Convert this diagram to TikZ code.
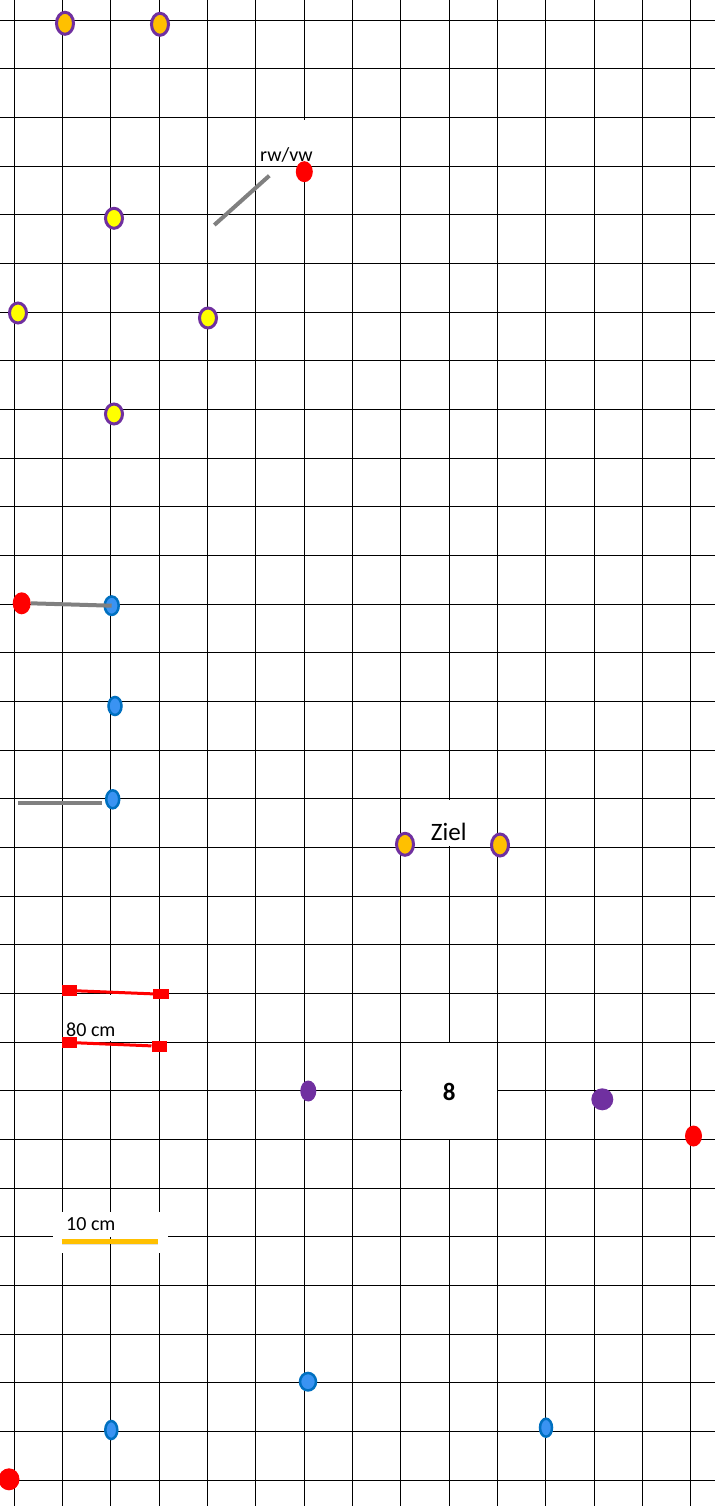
\documentclass[tikz,border=0pt]{standalone}
\usepackage{fontspec}
\setmainfont{Carlito}
\usetikzlibrary{shapes.geometric}
\definecolor{purp}{HTML}{7030A0}
\definecolor{orangeF}{HTML}{FFC000}
\definecolor{yellowF}{HTML}{FFFF00}
\definecolor{blueF}{HTML}{3A93F2}
\definecolor{blueD}{HTML}{0070C0}
\definecolor{redF}{HTML}{FF0000}
\definecolor{grayL}{HTML}{808080}
\tikzset{
  gridline/.style={black,line width=1pt},
  odot/.style={ellipse,fill=orangeF,draw=purp,line width=3pt,minimum width=17pt,minimum height=22pt,inner sep=0pt},
  ydot/.style={odot,fill=yellowF,minimum height=20pt},
  reddot/.style={ellipse,fill=redF,minimum width=17pt,minimum height=21pt,inner sep=0pt},
  bluedot/.style={ellipse,fill=blueF,draw=blueD,line width=2.5pt,minimum width=13pt,minimum height=18pt,inner sep=0pt},
  purpdot/.style={ellipse,fill=purp,minimum width=16pt,minimum height=21pt,inner sep=0pt},
  graybar/.style={grayL,line width=4pt},
  redsq/.style={rectangle,fill=redF,minimum width=15pt,minimum height=11pt,inner sep=0pt},
  redline/.style={redF,line width=3pt},
  lbl/.style={inner sep=0pt,anchor=base west,font=\fontsize{20}{24}\selectfont},
  whitebox/.style={fill=white,draw=none}
}
\begin{document}
\begin{tikzpicture}[x=1pt,y=-1pt]
\useasboundingbox (0,0) rectangle (715,1506);
\fill[white] (0,0) rectangle (715,1506);
% grid
\foreach \j in {0,...,14}{
  \draw[gridline] ({14+48.35*\j},0) -- ({14+48.35*\j},1506);
}
\foreach \k in {0,...,30}{
  \draw[gridline] (0,{20.3+48.66*\k}) -- (715,{20.3+48.66*\k});
}
% white text boxes
\fill[whitebox] (257,119.6) rectangle (340,165.4);
\fill[whitebox] (402,800.2) rectangle (496.3,846.3);
\fill[whitebox] (63.5,994.8) rectangle (158,1041.2);
\fill[whitebox] (53,1212) rectangle (168,1253);
\fill[whitebox] (401.9,1043.4) rectangle (496.9,1138.8);
% texts
\node[lbl] (trw) at (260,161.5) {rw/vw};
\node[lbl,font=\fontsize{25}{30}\selectfont] (tziel) at (430.7,840) {Ziel};
\node[lbl] (t80) at (66,1036) {80 cm};
\node[lbl] (t10) at (66,1230.5) {10 cm};
\node[inner sep=0pt,font=\fontsize{25}{30}\selectfont\bfseries] (t8) at (449.3,1091.7) {8};
% orange dots
\node[odot] (o1) at (65,23.3) {};
\node[odot] (o2) at (160,24.3) {};
\node[odot] (o3) at (405,844.3) {};
\node[odot] (o4) at (500,845) {};
% yellow dots
\node[ydot] (y1) at (114,218.3) {};
\node[ydot] (y2) at (18,313) {};
\node[ydot] (y3) at (208,318) {};
\node[ydot] (y4) at (114,414) {};
% red dots
\node[reddot] (r1) at (304.3,171.7) {};
\node[reddot,minimum width=18pt,minimum height=22pt] (r2) at (21.7,603.3) {};
\node[reddot] (r3) at (693.5,1136) {};
\node[reddot,minimum width=21pt,minimum height=22pt] (r4) at (9,1479.3) {};
% blue dots
\node[bluedot,minimum width=14pt,minimum height=18.5pt] (b1) at (111.7,605.7) {};
\node[bluedot] (b2) at (115,706) {};
\node[bluedot] (b3) at (112.7,799.3) {};
\node[bluedot,minimum width=16pt,minimum height=17.5pt] (b4) at (308,1381.7) {};
\node[bluedot,minimum width=12pt] (b5) at (111.3,1430) {};
\node[bluedot,minimum width=12pt] (b6) at (546,1427.7) {};
% purple dots
\node[purpdot] (p1) at (308.3,1091) {};
\node[purpdot,minimum width=22pt,minimum height=22pt] (p2) at (602.3,1099.3) {};
% gray bars
\coordinate (g1a) at (214.3,225);
\coordinate (g1b) at (269.3,175.7);
\draw[graybar] (g1a) -- (g1b);
\draw[graybar] (r2.east) -- (b1.center);
\coordinate (g2a) at (18.3,802.7);
\coordinate (g2b) at (101.7,802.7);
\draw[graybar] (g2a) -- (g2b);
% red measuring lines
\node[redsq] (s1a) at (69.2,990.5) {};
\node[redsq,minimum width=16pt,minimum height=10pt] (s1b) at (161.3,994.2) {};
\node[redsq] (s2a) at (69.2,1042.5) {};
\node[redsq,minimum width=15pt] (s2b) at (159.2,1046.2) {};
\draw[redline] (s1a) -- (s1b);
\draw[redline] (s2a) -- (s2b);
% 10 cm bar
\coordinate (tk1) at (110.7,1237);
\coordinate (tk2) at (110.7,1254);
\draw[gridline] (tk1) -- (tk2);
\coordinate (oa) at (61.7,1241);
\coordinate (ob) at (158.3,1241);
\draw[black,opacity=0.12,line width=5pt] ([yshift=-1.5pt]oa) -- ([yshift=-1.5pt]ob);
\draw[orangeF,line width=5pt] (oa) -- (ob);
\end{tikzpicture}
\end{document}
